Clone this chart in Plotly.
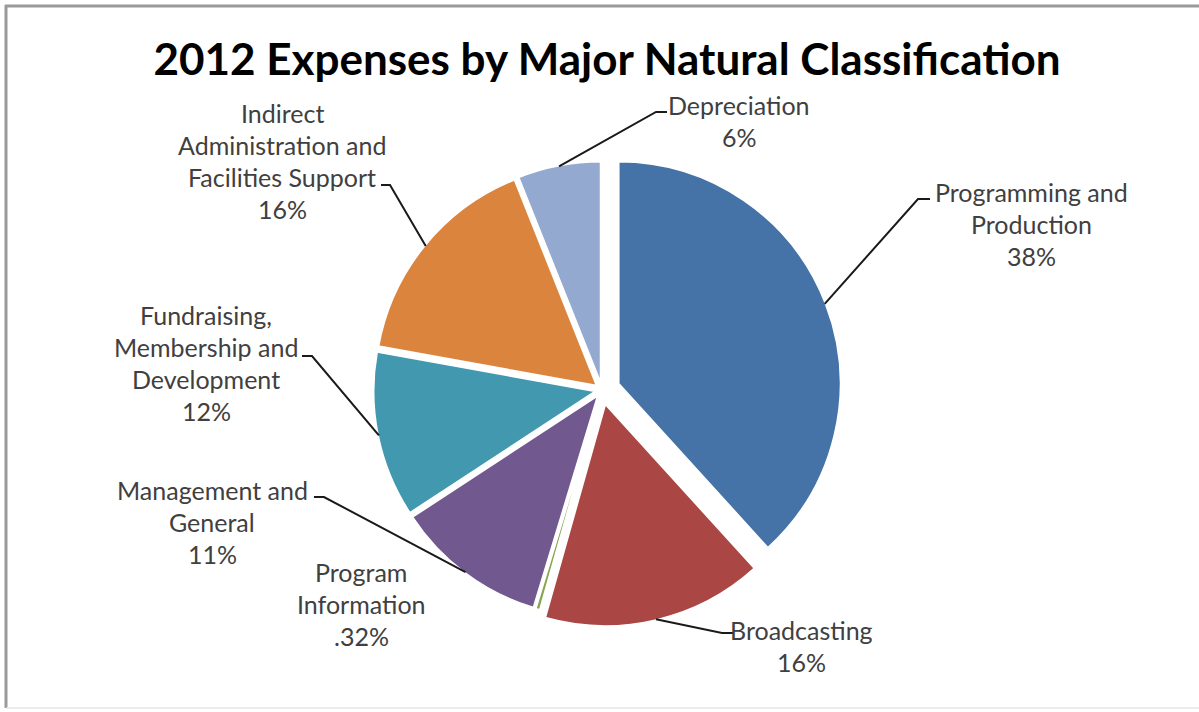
import numpy as np
import plotly.graph_objects as go

# ---- data ----
categories = [
    "Programming and Production",
    "Broadcasting",
    "Program Information",
    "Management and General",
    "Fundraising, Membership and Development",
    "Indirect Administration and Facilities Support",
    "Depreciation",
]
percent_values = [38, 16, 0.32, 11, 12, 16, 6]
percent_labels = ["38%", "16%", ".32%", "11%", "12%", "16%", "6%"]
label_lines = [
    ["Programming and", "Production"],
    ["Broadcasting"],
    ["Program", "Information"],
    ["Management and", "General"],
    ["Fundraising,", "Membership and", "Development"],
    ["Indirect", "Administration and", "Facilities Support"],
    ["Depreciation"],
]

# ---- styling ----
colors = ["#4572A7", "#AA4643", "#89A54E", "#71588F", "#4198AF", "#DB843D", "#93A9CF"]
pulls = [0.08, 0.065, 0.03, 0.03, 0.03, 0.03, 0.03]
TEXT_COLOR = "#404040"
FONT = "Lato"

W, H = 1199, 712
CX, CY, R = 602, 390, 222
LINE_GAP = 32

# label placement: text centre x, first line y, leader tick (start x, end x, y) or None
label_layout = [
    (1031, 192, (930, 918, 199)),
    (801, 630, (733, 722, 633)),
    (361, 572, None),
    (212, 490, (314, 324, 497)),
    (206, 315, (302, 312, 356)),
    (282, 113, (381, 390, 185)),
    (739, 105, (667, 656, 112)),
]

# pie domain chosen so the unpulled radius equals R around (CX, CY)
side = 2 * R * (1 + max(pulls))
dom_x = [(CX - side / 2) / W, (CX + side / 2) / W]
dom_y = [1 - (CY + side / 2) / H, 1 - (CY - side / 2) / H]

fig = go.Figure(
    go.Pie(
        labels=categories,
        values=percent_values,
        sort=False,
        direction="clockwise",
        rotation=0,
        pull=pulls,
        marker=dict(colors=colors, line=dict(color="white", width=2)),
        textinfo="none",
        hoverinfo="label+percent",
        showlegend=False,
        domain=dict(x=dom_x, y=dom_y),
    )
)

# slice mid-angles (clockwise from 12 o'clock) for the leader lines
vals = np.array(percent_values, dtype=float)
ends = np.cumsum(vals) / vals.sum() * 2 * np.pi
starts = ends - vals / vals.sum() * 2 * np.pi
mids = (starts + ends) / 2


def px(x):
    return x / W


def py(y):
    return 1 - y / H


shapes = []
annotations = []
for i, (lines, (tx, ty, tick)) in enumerate(zip(label_lines, label_layout)):
    all_lines = lines + [percent_labels[i]]
    for k, line in enumerate(all_lines):
        annotations.append(
            dict(
                x=px(tx), y=py(ty + k * LINE_GAP), xref="paper", yref="paper",
                text=line, showarrow=False, xanchor="center", yanchor="middle",
                font=dict(family=FONT, size=25, color=TEXT_COLOR),
            )
        )
    if tick is not None:
        r_edge = R * (1 + pulls[i]) - 1
        ex = CX + r_edge * np.sin(mids[i])
        ey = CY - r_edge * np.cos(mids[i])
        x0, x1, y0 = tick
        path = f"M {px(x0)},{py(y0)} L {px(x1)},{py(y0)} L {px(ex)},{py(ey)}"
        shapes.append(
            dict(type="path", path=path, xref="paper", yref="paper",
                 line=dict(color="#1a1a1a", width=2))
        )

# chart frame
shapes += [
    dict(type="line", xref="paper", yref="paper", x0=px(5), x1=1.01, y0=py(6), y1=py(6),
         line=dict(color="#9a9a9a", width=3)),
    dict(type="line", xref="paper", yref="paper", x0=px(6), x1=px(6), y0=py(5), y1=py(708),
         line=dict(color="#9a9a9a", width=3)),
    dict(type="line", xref="paper", yref="paper", x0=px(6), x1=1.01, y0=py(708), y1=py(708),
         line=dict(color="#e4e4e4", width=1.5)),
]

fig.update_layout(
    width=W,
    height=H,
    margin=dict(l=0, r=0, t=0, b=0),
    paper_bgcolor="white",
    plot_bgcolor="white",
    title=dict(
        text="<b>2012 Expenses by Major Natural Classification</b>",
        x=607 / W, xanchor="center", y=1 - 60 / H, yanchor="middle",
        xref="paper", yref="container",
        font=dict(family=FONT, size=44, color="#000000"),
    ),
    shapes=shapes,
    annotations=annotations,
)

fig.write_html("out.html")
